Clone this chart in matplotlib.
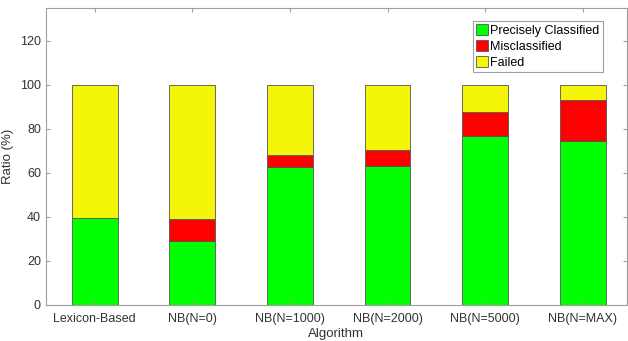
import numpy as np
import matplotlib.pyplot as plt

plt.rcParams['font.family'] = ['Liberation Sans', 'DejaVu Sans']

# DATA
algorithms = ['Lexicon-Based', 'NB(N=0)', 'NB(N=1000)', 'NB(N=2000)', 'NB(N=5000)', 'NB(N=MAX)']
precise = [39.3, 28.8, 62.6, 63.3, 76.8, 74.7]
misclassified = [0.0, 10.3, 5.6, 7.3, 10.9, 18.6]
failed = [100 - p - m for p, m in zip(precise, misclassified)]

x = np.arange(1, len(algorithms) + 1)
w = 0.47

fig = plt.figure(figsize=(6.28, 3.41), dpi=100)
ax = fig.add_axes([0.073, 0.106, 0.925, 0.871])

edge = '#555555'
ax.bar(x, precise, w, color='#00ff00', edgecolor=edge, linewidth=0.6, label='Precisely Classified')
ax.bar(x, misclassified, w, bottom=precise, color='#ff0000', edgecolor=edge, linewidth=0.6, label='Misclassified')
bottom2 = [p + m for p, m in zip(precise, misclassified)]
ax.bar(x, failed, w, bottom=bottom2, color='#f5f50a', edgecolor=edge, linewidth=0.6, label='Failed')

ax.set_xlim(0.5, 6.45)
ax.set_ylim(0, 135)
ax.set_yticks(range(0, 121, 20))
ax.set_xticks(x)
ax.set_xticklabels(algorithms)

axis_col = '#a0a0a0'
for s in ax.spines.values():
    s.set_color(axis_col)
    s.set_linewidth(0.8)
ax.tick_params(direction='in', length=3, colors=axis_col, labelcolor='#333333',
               labelsize=9, top=True, right=True)
ax.tick_params(axis='x', pad=6)

ax.set_xlabel('Algorithm', fontsize=9.5, color='#333333', labelpad=2)
ax.set_ylabel('Ratio (%)', fontsize=9.5, color='#333333', labelpad=4)

leg = ax.legend(loc='upper right', bbox_to_anchor=(0.965, 0.97), fontsize=9,
                fancybox=False, framealpha=1, borderpad=0.25, labelspacing=0.25,
                handlelength=1.0, handleheight=1.0, handletextpad=0.15, borderaxespad=0.3)
leg.get_frame().set_edgecolor(axis_col)
leg.get_frame().set_linewidth(0.8)

fig.savefig('out.png', dpi=100)
